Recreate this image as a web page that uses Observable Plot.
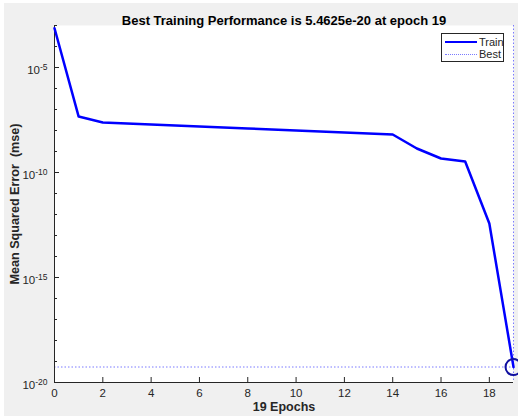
<!DOCTYPE html>
<html>
<head>
<meta charset="utf-8">
<script src="https://cdn.jsdelivr.net/npm/d3@7"></script>
<script src="https://cdn.jsdelivr.net/npm/@observablehq/plot@0.6"></script>
<style>
  html, body { margin: 0; padding: 0; background: #ffffff; }
  #wrap { position: relative; width: 518px; height: 416px; overflow: hidden; }
  #chart { position: absolute; left: 4px; top: 3px; }
  #chart svg text { white-space: pre; }
  #legend {
    position: absolute; left: 441px; top: 33px; width: 61px; height: 27px;
    background: #fff; border: 1px solid #262626;
    font-family: "Liberation Sans", Arial, sans-serif; font-size: 11px; color: #262626;
  }
  .row { position: absolute; left: 0; height: 13px; width: 61px; }
  .sample { position: absolute; left: 3px; width: 32px; }
  .lbl { position: absolute; left: 37px; line-height: 13px; top: 0; }
</style>
</head>
<body>
<div id="wrap">
  <div id="chart"></div>
  <div id="legend">
    <div class="row" style="top:2px"><div class="sample" style="top:5px;border-top:2.5px solid #0000ff"></div><div class="lbl">Train</div></div>
    <div class="row" style="top:14px"><div class="sample" style="top:6px;border-top:1px dotted #7a7aff"></div><div class="lbl">Best</div></div>
  </div>
</div>
<script>
// ---- data ----
const epochs = [0,1,2,3,4,5,6,7,8,9,10,11,12,13,14,15,16,17,18,19];
const trainPerf = [7.4e-4, 4.6e-8, 2.4e-8, 2.15e-8, 1.93e-8, 1.73e-8, 1.55e-8, 1.39e-8, 1.25e-8, 1.12e-8,
                   1.0e-8, 8.96e-9, 8.03e-9, 7.2e-9, 6.45e-9, 1.39e-9, 4.64e-10, 3.34e-10, 3.7e-13, 5.4625e-20];
const bestEpoch = 19;
const bestPerf = 5.4625e-20;
const xTicks = [0,2,4,6,8,10,12,14,16,18];
const yMajor = [1e-5, 1e-10, 1e-15, 1e-20];
const yMinor = d3.range(-20, -2).map(e => Math.pow(10, e));
const titleText = "Best Training Performance is 5.4625e-20 at epoch 19";
const xLabel = "19 Epochs";
const yLabel = "Mean Squared Error  (mse)";
const xDomain = [0, 19];
const yDomain = [1e-20, 1e-3];

const train = epochs.map((e, i) => ({epoch: e, perf: trainPerf[i]}));

// ---- layout ----
const W = 514, H = 413, ml = 50, mr = 5, mt = 22, mb = 34;
const pxPerX = (W - ml - mr) / (xDomain[1] - xDomain[0]);
const pxPerDecade = (H - mt - mb) / (Math.log10(yDomain[1]) - Math.log10(yDomain[0]));
const tx = px => px / pxPerX;                 // px -> epoch units
const ty = (v, px) => v * Math.pow(10, px / pxPerDecade); // shift log value by px upward

const axisColor = "#262626";
const font = "'Liberation Sans', Arial, sans-serif";

const chart = Plot.plot({
  width: W, height: H,
  marginLeft: ml, marginRight: mr, marginTop: mt, marginBottom: mb,
  style: {background: "#f0f0f0", fontFamily: font, color: axisColor, overflow: "visible"},
  x: {domain: xDomain, axis: null},
  y: {type: "log", domain: yDomain, axis: null},
  marks: [
    Plot.frame({fill: "white", stroke: "none"}),
    // best lines
    Plot.ruleY([bestPerf], {stroke: "#7a7aff", strokeWidth: 1, strokeDasharray: "1.5,2"}),
    Plot.ruleX([bestEpoch], {stroke: "#7a7aff", strokeWidth: 1, strokeDasharray: "1.5,2"}),
    // axes lines
    Plot.ruleX([xDomain[0]], {stroke: axisColor, strokeWidth: 1}),
    Plot.ruleY([yDomain[0]], {stroke: axisColor, strokeWidth: 1}),
    // y ticks (inward)
    Plot.ruleY(yMinor, {y: d => d, x1: xDomain[0], x2: tx(3), stroke: axisColor, strokeWidth: 1}),
    Plot.ruleY(yMajor, {y: d => d, x1: xDomain[0], x2: tx(5), stroke: axisColor, strokeWidth: 1}),
    // x ticks (inward)
    Plot.ruleX(xTicks, {x: d => d, y1: yDomain[0], y2: ty(yDomain[0], 5), stroke: axisColor, strokeWidth: 1}),
    // tick labels
    Plot.text(xTicks, {x: d => d, y: yDomain[0], text: d => String(d), dy: 11, fontSize: 11.5, fill: axisColor}),
    Plot.text(yMajor, {x: xDomain[0], y: d => d, text: d => "10^" + Math.round(Math.log10(d)),
      textAnchor: "end", dx: -7, dy: 3, fontSize: 11.5, fill: axisColor}),
    // train line
    Plot.line(train, {x: "epoch", y: "perf", stroke: "#0000ff", strokeWidth: 2.5, strokeLinejoin: "round"}),
    // best marker
    Plot.dot([{epoch: bestEpoch, perf: bestPerf}], {x: "epoch", y: "perf", r: 8, stroke: "#1010a0", strokeWidth: 2, fill: "none"}),
    // titles
    Plot.text([titleText], {frameAnchor: "top", dy: -10, fontSize: 13, fontWeight: "bold", fill: "#000"}),
    Plot.text([xLabel], {frameAnchor: "bottom", dy: 28, fontSize: 12.5, fontWeight: "bold", fill: axisColor}),
    Plot.text([yLabel], {frameAnchor: "left", textAnchor: "middle", rotate: -90, dx: -40, fontSize: 12.6, fontWeight: "bold", fill: axisColor})
  ]
});

// superscript exponents on log tick labels
chart.querySelectorAll("text").forEach(t => {
  const m = /^10\^(-?\d+)$/.exec(t.textContent);
  if (m) {
    t.textContent = "10";
    const s = document.createElementNS("http://www.w3.org/2000/svg", "tspan");
    s.setAttribute("dy", "-0.45em");
    s.setAttribute("font-size", "8.5");
    s.textContent = m[1];
    t.appendChild(s);
  }
});

document.getElementById("chart").appendChild(chart);
</script>
</body>
</html>
